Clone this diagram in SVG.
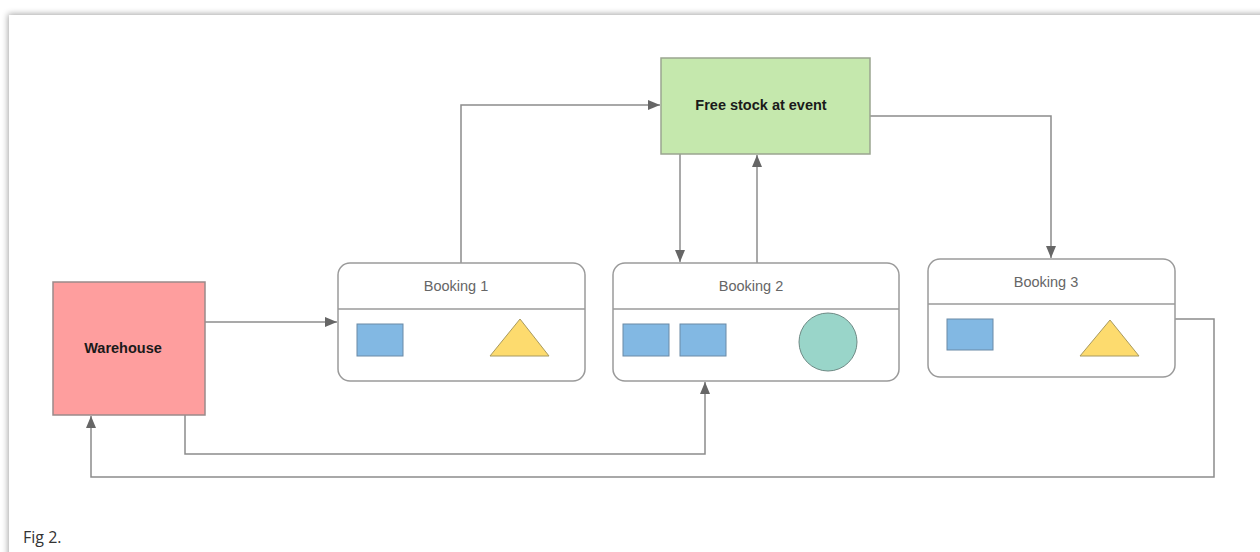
<svg xmlns="http://www.w3.org/2000/svg" width="1260" height="552" viewBox="0 0 1260 552">
<defs>
<filter id="sh" x="-5%" y="-5%" width="110%" height="110%">
<feGaussianBlur in="SourceAlpha" stdDeviation="3"/>
<feOffset dx="-1" dy="-1"/>
<feComponentTransfer><feFuncA type="linear" slope="0.35"/></feComponentTransfer>
<feMerge><feMergeNode/><feMergeNode in="SourceGraphic"/></feMerge>
</filter>
<marker id="ah" viewBox="0 0 12 10" refX="12" refY="5" markerWidth="12" markerHeight="10" markerUnits="userSpaceOnUse" orient="auto">
<path d="M0,0 L12,5 L0,10 Z" fill="#666"/>
</marker>
<style>
.conn{fill:none;stroke:#8c8c8c;stroke-width:1.5}
.card{fill:#fff;stroke:#9a9a9a;stroke-width:1.5}
.title{font-family:"Liberation Sans",Arial,sans-serif;font-size:14.5px;fill:#666;text-anchor:middle}
.bold{font-family:"Liberation Sans",Arial,sans-serif;font-size:14.5px;font-weight:bold;fill:#1a1a1a;text-anchor:middle}
.sq{fill:#82b8e3;stroke:#6a8aa6;stroke-width:1}
.tri{fill:#fddb6e;stroke:#a89a60;stroke-width:1}
</style>
</defs>
<rect x="0" y="0" width="1260" height="552" fill="#fff"/>
<rect x="9" y="15" width="1270" height="560" fill="#fff" filter="url(#sh)"/>

<g id="connectors">
<path class="conn" d="M205,322 H337" marker-end="url(#ah)"/>
<path class="conn" d="M461,263 V105 H660" marker-end="url(#ah)"/>
<path class="conn" d="M680,154 V262" marker-end="url(#ah)"/>
<path class="conn" d="M757,263 V155" marker-end="url(#ah)"/>
<path class="conn" d="M870,116 H1051 V258" marker-end="url(#ah)"/>
<path class="conn" d="M185,415 V454 H705 V382" marker-end="url(#ah)"/>
<path class="conn" d="M1175,319 H1214 V477 H91 V416" marker-end="url(#ah)"/>
</g>

<g id="free-stock">
<rect x="661" y="58" width="209" height="96" fill="#c5e8ad" stroke="#9aa590" stroke-width="1.5"/>
<text class="bold" x="761" y="110">Free stock at event</text>
</g>

<g id="warehouse">
<rect x="53" y="282" width="152" height="133" fill="#fe9e9e" stroke="#9a8a8a" stroke-width="1.5"/>
<text class="bold" x="123" y="353">Warehouse</text>
</g>

<g id="booking1">
<rect class="card" x="338" y="263" width="247" height="118" rx="12"/>
<line x1="338" y1="309" x2="585" y2="309" stroke="#9a9a9a" stroke-width="1.5"/>
<text class="title" x="456" y="291">Booking 1</text>
<rect class="sq" x="357" y="324" width="46" height="32"/>
<polygon class="tri" points="520,319 549,356 490,356"/>
</g>

<g id="booking2">
<rect class="card" x="613" y="263" width="286" height="118" rx="12"/>
<line x1="613" y1="309" x2="899" y2="309" stroke="#9a9a9a" stroke-width="1.5"/>
<text class="title" x="751" y="291">Booking 2</text>
<rect class="sq" x="623" y="324" width="46" height="32"/>
<rect class="sq" x="680" y="324" width="46" height="32"/>
<circle cx="828" cy="342" r="29" fill="#99d5c9" stroke="#6e8a85" stroke-width="1"/>
</g>

<g id="booking3">
<rect class="card" x="928" y="259" width="247" height="118" rx="12"/>
<line x1="928" y1="304" x2="1175" y2="304" stroke="#9a9a9a" stroke-width="1.5"/>
<text class="title" x="1046" y="287">Booking 3</text>
<rect class="sq" x="947" y="319" width="46" height="31"/>
<polygon class="tri" points="1110,320 1139,356 1080,356"/>
</g>

<text x="23" y="543" font-family="'Open Sans','Liberation Sans',sans-serif" font-size="16" fill="#333">Fig 2.</text>
</svg>
